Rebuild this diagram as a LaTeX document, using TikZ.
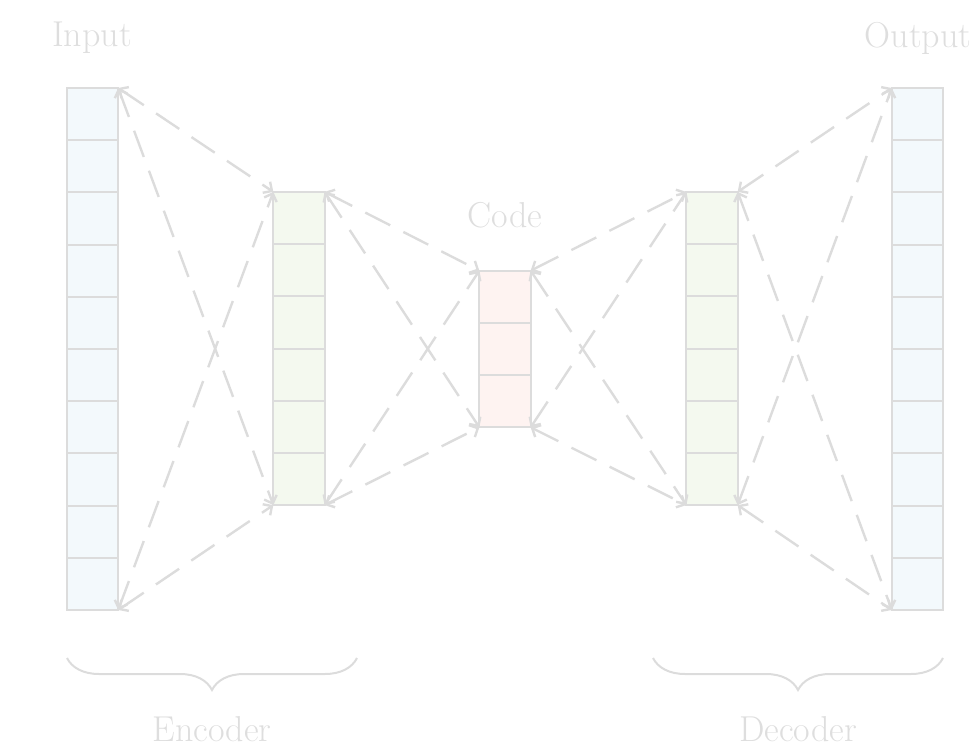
\documentclass[tikz,border=0pt]{standalone}
\usetikzlibrary{arrows.meta,decorations.pathreplacing,calc}
\definecolor{edgegray}{HTML}{DCDCDC}
\definecolor{labelgray}{HTML}{DEDEDE}
\definecolor{inblue}{HTML}{F3F9FC}
\definecolor{hidgreen}{HTML}{F4F9EF}
\definecolor{codepink}{HTML}{FEF3F1}
\begin{document}
\begin{tikzpicture}[x=0.75pt,y=-0.75pt,
  layer/.style={draw=edgegray,line width=1.5pt,minimum width=38.5pt,inner sep=0pt,outer sep=0pt},
  sep/.style={draw=edgegray,line width=1.5pt},
  link/.style={draw=edgegray,line width=1.8pt,dash pattern=on 21pt off 11pt,
    {Straight Barb[length=5pt,width=10pt]}-{Straight Barb[length=5pt,width=10pt]}},
  caption/.style={text=labelgray,font=\fontsize{27}{31}\selectfont,inner sep=0pt},
  brace/.style={draw=edgegray,line width=1.5pt,decorate,decoration={brace,mirror,amplitude=24pt}}]
\useasboundingbox (0,0) rectangle (975,749);

% columns of units
\node[layer,fill=inblue,minimum height=391.5pt] (in) at (92.5,349) {};
\node[layer,fill=hidgreen,minimum height=234.9pt] (enc) at (299,348.5) {};
\node[layer,fill=codepink,minimum height=117.5pt] (code) at (505,349) {};
\node[layer,fill=hidgreen,minimum height=234.9pt] (dec) at (712,348.5) {};
\node[layer,fill=inblue,minimum height=391.5pt] (out) at (917.5,349) {};

% cell separators
\foreach \k in {1,...,9}{
  \draw[sep] ($(in.north west)!\k/10!(in.south west)$) -- ($(in.north east)!\k/10!(in.south east)$);
  \draw[sep] ($(out.north west)!\k/10!(out.south west)$) -- ($(out.north east)!\k/10!(out.south east)$);
}
\foreach \k in {1,...,5}{
  \draw[sep] ($(enc.north west)!\k/6!(enc.south west)$) -- ($(enc.north east)!\k/6!(enc.south east)$);
  \draw[sep] ($(dec.north west)!\k/6!(dec.south west)$) -- ($(dec.north east)!\k/6!(dec.south east)$);
}
\foreach \k in {1,2}{
  \draw[sep] ($(code.north west)!\k/3!(code.south west)$) -- ($(code.north east)!\k/3!(code.south east)$);
}

% connections between neighbouring layers
\foreach \a/\b in {in/enc,enc/code,code/dec,dec/out}{
  \draw[link] (\a.north east) -- (\b.north west);
  \draw[link] (\a.north east) -- (\b.south west);
  \draw[link] (\a.south east) -- (\b.north west);
  \draw[link] (\a.south east) -- (\b.south west);
}

% labels
\node[caption] (lin) at (92,38) {Input};
\node[caption] (lout) at (918,38) {Output};
\node[caption] (lcode) at (505,215) {Code};

% braces
\coordinate (e1) at (67,658);
\coordinate (e2) at (357,658);
\coordinate (d1) at (653,658);
\coordinate (d2) at (943,658);
\draw[brace] (e1) -- (e2);
\draw[brace] (d1) -- (d2);
\node[caption] (lenc) at (212,729) {Encoder};
\node[caption] (ldec) at (798,729) {Decoder};
\end{tikzpicture}
\end{document}
